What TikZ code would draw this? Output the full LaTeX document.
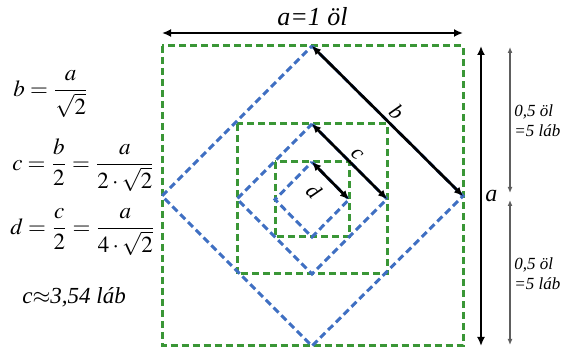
\documentclass[tikz,border=0pt]{standalone}
\usepackage{mathptmx}
\usepackage[no-math]{fontspec}
\setmainfont{Liberation Serif}
\usepackage{tikz}
\usetikzlibrary{arrows.meta}
\definecolor{sqgreen}{HTML}{3A9636}
\definecolor{dmblue}{HTML}{3F6FC2}
\definecolor{halfgray}{HTML}{5E5E5E}

\begin{document}
\begin{tikzpicture}[x=0.5pt,y=-0.5pt,
  greenSq/.style={draw=sqgreen, line width=1.5pt, dash pattern=on 3.5pt off 2pt},
  blueDm/.style={draw=dmblue, line width=1.5pt, dash pattern=on 3.5pt off 2pt},
  dimArrow/.style={{Latex[length=4.5pt,width=4pt]}-{Latex[length=4.5pt,width=4pt]}, line width=1.35pt},
  halfArrow/.style={{Latex[length=3pt,width=2.5pt]}-{Latex[length=3pt,width=2.5pt]}, line width=1.1pt, draw=halfgray},
  segLabel/.style={font=\fontsize{11}{13}\selectfont\itshape, inner sep=1pt},
  halfLabel/.style={font=\fontsize{8.5}{10}\selectfont\itshape, align=left, inner sep=0pt, anchor=west},
  formula/.style={font=\fontsize{11.5}{14}\selectfont, anchor=west, inner sep=0pt}
]
\useasboundingbox (0,0) rectangle (568,347);

% squares (green) and diamonds (blue)
\draw[greenSq] (162,46) rectangle (463,345.5);
\draw[greenSq] (237,124) rectangle (387,274);
\draw[greenSq] (275,162) rectangle (349,237);
\draw[blueDm] (312,46) -- (463,196) -- (312,346) -- (162,196) -- cycle;
\draw[blueDm] (312,124) -- (387,199) -- (312,274) -- (237,199) -- cycle;
\draw[blueDm] (312,162) -- (349,199.5) -- (312,237) -- (275,199.5) -- cycle;

% end points of the measures
\coordinate (b1) at (312,46);
\coordinate (b2) at (463,196);
\coordinate (c1) at (312,124);
\coordinate (c2) at (387,199);
\coordinate (d1) at (312,162);
\coordinate (d2) at (349,199.5);
\coordinate (top1) at (162,33);
\coordinate (top2) at (463,33);
\coordinate (side1) at (481,46);
\coordinate (side2) at (481,346);
\coordinate (half1) at (510,47);
\coordinate (half2) at (510,193);
\coordinate (half3) at (510,200);
\coordinate (half4) at (510,345);

\draw[dimArrow] (b1) -- node[segLabel, sloped, above=1pt] (lb) {b} (b2);
\draw[dimArrow] (c1) -- node[segLabel, sloped, above=1pt] (lc) {c} (c2);
\draw[dimArrow] (d1) -- node[segLabel, sloped, below=4pt, pos=0.42] (ld) {d} (d2);

\draw[dimArrow] (top1) -- node[above=2pt, font=\fontsize{13}{15}\selectfont\itshape, inner sep=1pt] (la) {a=1 öl} (top2);
\draw[dimArrow] (side1) -- node[right, font=\fontsize{12}{14}\selectfont\itshape, inner sep=1.5pt] (lside) {a} (side2);

\draw[halfArrow] (half1) -- (half2);
\draw[halfArrow] (half3) -- (half4);
\node[halfLabel] (hup) at (514,121) {0,5 öl\\=5 láb};
\node[halfLabel] (hlow) at (514,274) {0,5 öl\\=5 láb};

% formulas
\node[formula] (fb) at (13,94) {$\displaystyle b=\frac{a}{\sqrt{2}}$};
\node[formula] (fc) at (12,165) {$\displaystyle c=\frac{b}{2}=\frac{a}{2\cdot\sqrt{2}}$};
\node[formula] (fd) at (10,232) {$\displaystyle d=\frac{c}{2}=\frac{a}{4\cdot\sqrt{2}}$};
\node[formula, font=\fontsize{11.5}{14}\selectfont\itshape] (fval) at (22,297) {c$\approx$3,54 láb};
\end{tikzpicture}
\end{document}
